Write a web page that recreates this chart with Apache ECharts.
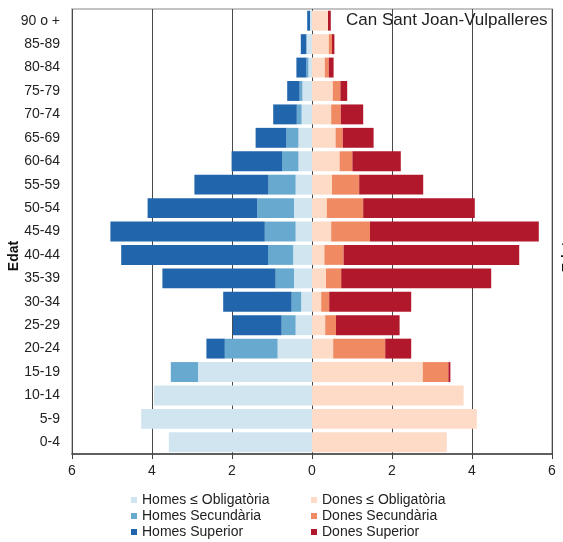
<!DOCTYPE html>
<html>
<head>
<meta charset="utf-8">
<script src="https://cdn.jsdelivr.net/npm/echarts@6/dist/echarts.min.js"></script>
<style>
html,body{margin:0;padding:0;background:#fff;}
#chart{width:563px;height:542px;}
</style>
</head>
<body>
<div id="chart"></div>
<script>
var categories = ['0-4','5-9','10-14','15-19','20-24','25-29','30-34','35-39','40-44','45-49','50-54','55-59','60-64','65-69','70-74','75-79','80-84','85-89','90 o +'];
var xTicks = [-6,-4,-2,0,2,4,6];

var homesObligatoria = [3.58,4.27,3.95,2.85,0.86,0.41,0.27,0.45,0.47,0.41,0.45,0.41,0.34,0.34,0.26,0.24,0.09,0.14,0.05];
var homesSecundaria  = [0,0,0,0.68,1.32,0.35,0.24,0.46,0.63,0.77,0.92,0.68,0.41,0.30,0.12,0.07,0.05,0,0];
var homesSuperior    = [0,0,0,0,0.46,1.22,1.71,2.83,3.67,3.86,2.74,1.85,1.26,0.77,0.59,0.31,0.25,0.14,0.07];

var donesObligatoria = [3.37,4.12,3.79,2.77,0.53,0.33,0.23,0.35,0.31,0.48,0.37,0.50,0.69,0.59,0.48,0.52,0.32,0.42,0.40];
var donesSecundaria  = [0,0,0,0.64,1.30,0.27,0.20,0.38,0.48,0.97,0.91,0.68,0.32,0.18,0.24,0.19,0.10,0.08,0];
var donesSuperior    = [0,0,0,0.05,0.65,1.59,2.05,3.75,4.39,4.22,2.79,1.60,1.21,0.77,0.56,0.17,0.12,0.06,0.07];

var names = ['Homes ≤ Obligatòria','Homes Secundària','Homes Superior','Dones ≤ Obligatòria','Dones Secundària','Dones Superior'];
var colors = ['#d1e5f0','#67a9cf','#2166ac','#fddbc7','#ef8a62','#b2182b'];

var FONT = "'Liberation Sans', Arial, sans-serif";

function neg(a){ return a.map(function(v){ return -v; }); }

var seriesData = [neg(homesObligatoria), neg(homesSecundaria), neg(homesSuperior), donesObligatoria, donesSecundaria, donesSuperior];

var series = seriesData.map(function(d, i){
  return {
    name: names[i],
    type: 'bar',
    stack: 'total',
    data: d,
    barCategoryGap: '15%',
    itemStyle: { color: colors[i] },
    emphasis: { disabled: true }
  };
});

var legendText = { fontSize: 14, fontFamily: FONT, color: '#222', lineHeight: 14 };

var chart = echarts.init(document.getElementById('chart'), null, {renderer:'canvas'});
chart.setOption({
  animation: false,
  color: colors,
  grid: { left: 72, right: 11, top: 9, bottom: 88, show: true, borderColor: '#b0b0b0', borderWidth: 1.5, containLabel: false },
  xAxis: {
    type: 'value',
    min: xTicks[0], max: xTicks[xTicks.length-1], interval: 2,
    axisLine: { show: true, onZero: false, lineStyle: { color: '#404040', width: 1.5 } },
    axisTick: { show: true, length: 5, lineStyle: { color: '#404040' } },
    splitLine: { show: true, lineStyle: { color: '#4a4a4a', width: 1 } },
    axisLabel: { formatter: function(v){ return Math.abs(v); }, color: '#222', fontSize: 14, fontFamily: FONT, margin: 10 }
  },
  yAxis: {
    type: 'category',
    data: categories,
    axisLine: { show: false },
    axisTick: { show: false },
    axisLabel: { color: '#222', fontSize: 14, fontFamily: FONT, margin: 12 }
  },
  legend: [
    { data: names.slice(0,3), orient: 'vertical', left: 131, top: 493, height: 60, padding: 0, itemWidth: 6, itemHeight: 6, itemGap: 2, icon: 'rect',
      textStyle: legendText },
    { data: names.slice(3), orient: 'vertical', left: 311, top: 493, height: 60, padding: 0, itemWidth: 6, itemHeight: 6, itemGap: 2, icon: 'rect',
      textStyle: legendText }
  ],
  graphic: [
    { type: 'text', left: 346, top: 12, z: 100,
      style: { text: 'Can Sant Joan-Vulpalleres', fontSize: 17, fontFamily: FONT, fill: '#222' } },
    { type: 'text', x: 14, y: 256, rotation: Math.PI/2,
      style: { text: 'Edat', fontSize: 14, fontWeight: 'bold', fontFamily: FONT, fill: '#111', align: 'center', verticalAlign: 'middle' } },
    { type: 'text', x: 568, y: 257, rotation: Math.PI/2,
      style: { text: 'Edat', fontSize: 14, fontWeight: 'bold', fontFamily: FONT, fill: '#111', align: 'center', verticalAlign: 'middle' } }
  ],
  series: series
});
</script>
</body>
</html>
